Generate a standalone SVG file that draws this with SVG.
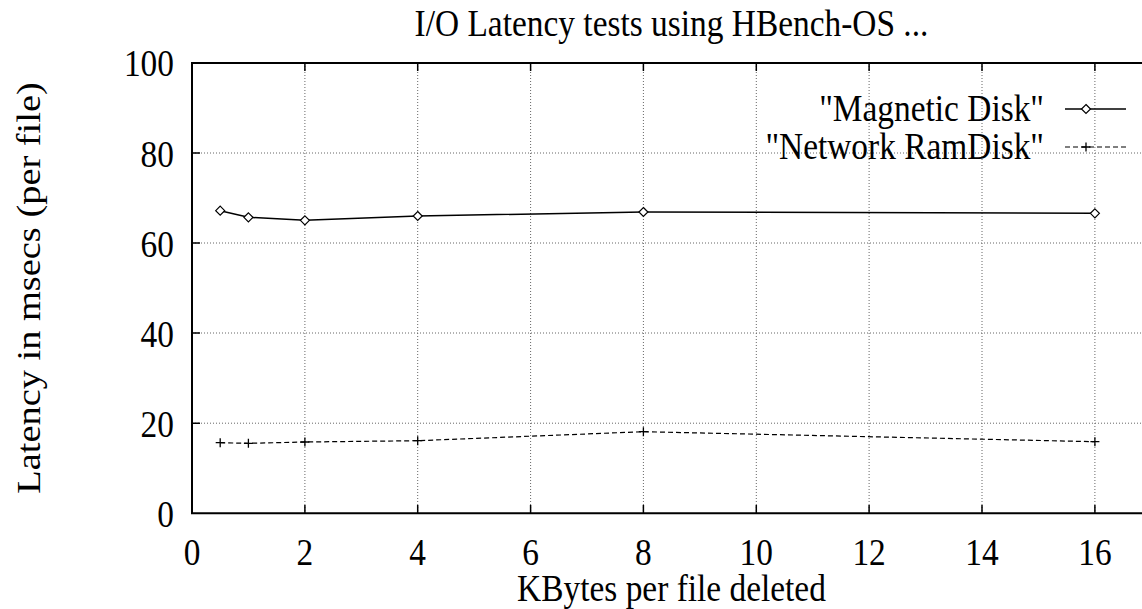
<svg xmlns="http://www.w3.org/2000/svg" width="1142" height="609" viewBox="0 0 1142 609" font-family="'Liberation Serif', 'DejaVu Serif', serif">
<style>
text{font-family:'Liberation Serif','DejaVu Serif',serif;font-size:33.4px;fill:#000}
.grid{stroke:#666;stroke-width:1;stroke-dasharray:1,2;fill:none}
.tick{stroke:#000;stroke-width:1.5;fill:none}
.border{stroke:#000;stroke-width:2;fill:none}
.s1{stroke:#000;stroke-width:1.5;fill:none}
.s2{stroke:#000;stroke-width:1.2;stroke-dasharray:5,3;fill:none}
.dm{stroke:#000;stroke-width:1.2;fill:#fff}
.pl{stroke:#000;stroke-width:1.3;fill:none}
.yl{text-anchor:end}
.xl{text-anchor:middle}
</style>
<defs>
<path id="dia" d="M0,-4.5 L4.5,0 L0,4.5 L-4.5,0 Z" class="dm"/>
<path id="plus" d="M-4.5,0 H4.5 M0,-4.5 V4.5" class="pl"/>
</defs>
<rect width="1142" height="609" fill="#fff"/>
<g id="grid">
<path class="grid" d="M304.9,63 V513 M417.7,63 V513 M530.6,63 V513 M643.4,63 V513 M756.3,63 V513 M869.1,63 V513 M982,63 V513 M1094.9,63 V513"/>
<path class="grid" d="M192,423.2 H1142 M192,333 H1142 M192,243 H1142 M192,153 H1142"/>
</g>
<g id="ticks">
<path class="tick" d="M304.9,513 v-8 M417.7,513 v-8 M530.6,513 v-8 M643.4,513 v-8 M756.3,513 v-8 M869.1,513 v-8 M982,513 v-8 M1094.9,513 v-8"/>
<path class="tick" d="M304.9,63 v8 M417.7,63 v8 M530.6,63 v8 M643.4,63 v8 M756.3,63 v8 M869.1,63 v8 M982,63 v8 M1094.9,63 v8"/>
<path class="tick" d="M192,423.2 h8 M192,333 h8 M192,243 h8 M192,153 h8"/>
</g>
<g id="axes">
<path class="border" d="M1142,63 H192 V513.3 H1142"/>
</g>
<g id="ylabels">
<text class="yl" transform="translate(174,76) scale(1,1.15)">100</text>
<text class="yl" transform="translate(174,166.5) scale(1,1.15)">80</text>
<text class="yl" transform="translate(174,256.5) scale(1,1.15)">60</text>
<text class="yl" transform="translate(174,346.5) scale(1,1.15)">40</text>
<text class="yl" transform="translate(174,436.5) scale(1,1.15)">20</text>
<text class="yl" transform="translate(174,527) scale(1,1.15)">0</text>
</g>
<g id="xlabels">
<text class="xl" transform="translate(192,565) scale(1,1.15)">0</text>
<text class="xl" transform="translate(304.9,565) scale(1,1.15)">2</text>
<text class="xl" transform="translate(417.7,565) scale(1,1.15)">4</text>
<text class="xl" transform="translate(530.6,565) scale(1,1.15)">6</text>
<text class="xl" transform="translate(643.4,565) scale(1,1.15)">8</text>
<text class="xl" transform="translate(756.3,565) scale(1,1.15)">10</text>
<text class="xl" transform="translate(869.1,565) scale(1,1.15)">12</text>
<text class="xl" transform="translate(982,565) scale(1,1.15)">14</text>
<text class="xl" transform="translate(1094.9,565) scale(1,1.15)">16</text>
</g>
<g id="title"><text class="xl" transform="translate(671.5,36) scale(1,1.15)">I/O Latency tests using HBench-OS ...</text></g>
<g id="xaxis-label"><text class="xl" transform="translate(671.5,601) scale(1,1.15)">KBytes per file deleted</text></g>
<g id="yaxis-label"><text class="xl" transform="translate(40,288) rotate(-90) scale(1.15,1)">Latency in msecs (per file)</text></g>
<g id="connectors">
<polyline class="s1" points="220.2,210.7 248.4,217.3 304.9,220.3 417.7,216 643.4,212 1094.9,213.3"/>
<polyline class="s2" points="220.2,442.7 248.4,443.3 304.9,442 417.7,440.7 643.4,431.7 1094.9,441.7"/>
</g>
<g id="series-magnetic">
<use href="#dia" x="220.2" y="210.7"/>
<use href="#dia" x="248.4" y="217.3"/>
<use href="#dia" x="304.9" y="220.3"/>
<use href="#dia" x="417.7" y="216"/>
<use href="#dia" x="643.4" y="212"/>
<use href="#dia" x="1094.9" y="213.3"/>
</g>
<g id="series-network">
<use href="#plus" x="220.2" y="442.7"/>
<use href="#plus" x="248.4" y="443.3"/>
<use href="#plus" x="304.9" y="442"/>
<use href="#plus" x="417.7" y="440.7"/>
<use href="#plus" x="643.4" y="431.7"/>
<use href="#plus" x="1094.9" y="441.7"/>
</g>
<g id="legend">
<text class="yl" transform="translate(1044,121) scale(1,1.15)">"Magnetic Disk"</text>
<path class="s1" d="M1065,109 H1126"/>
<use href="#dia" x="1086" y="109"/>
<text class="yl" transform="translate(1044,159) scale(1,1.15)">"Network RamDisk"</text>
<path class="s2" d="M1065,147 H1126"/>
<use href="#plus" x="1086" y="147"/>
</g>
</svg>
